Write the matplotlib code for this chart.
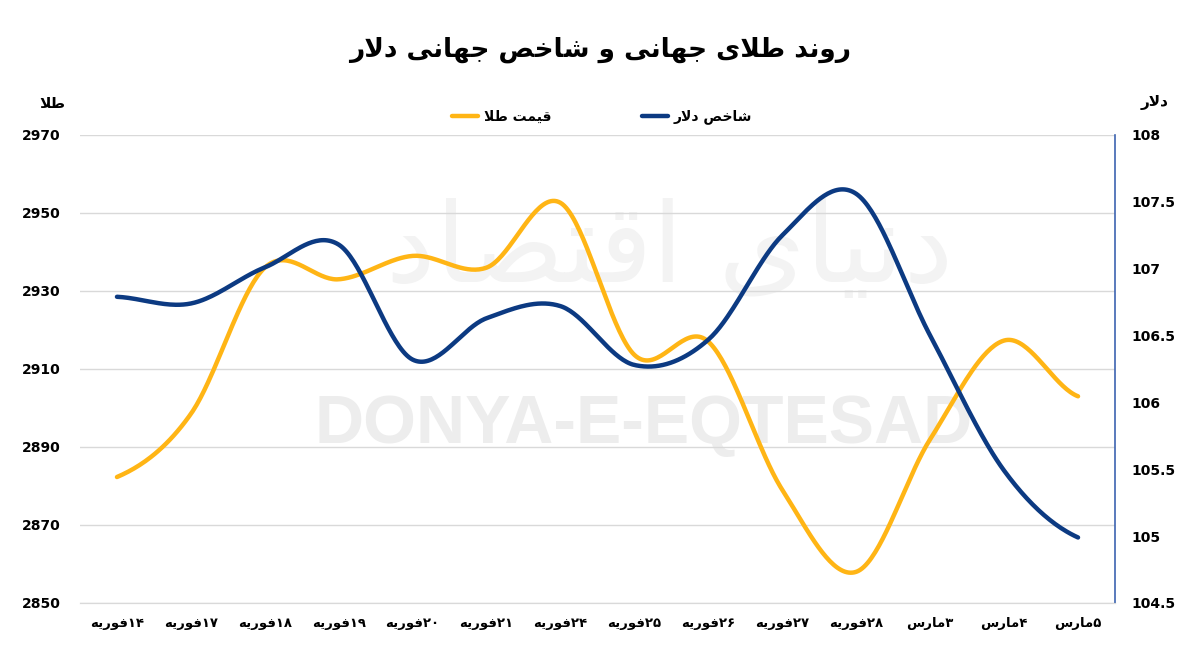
import re
import numpy as np
import matplotlib
matplotlib.use("Agg")
import matplotlib.pyplot as plt

# data
dates = ["۱۴فوریه", "۱۷فوریه", "۱۸فوریه", "۱۹فوریه", "۲۰فوریه", "۲۱فوریه", "۲۴فوریه",
         "۲۵فوریه", "۲۶فوریه", "۲۷فوریه", "۲۸فوریه", "۳مارس", "۴مارس", "۵مارس"]
gold = [2882.3, 2898.5, 2936.0, 2933.0, 2939.0, 2936.0, 2952.6,
        2913.6, 2917.0, 2879.0, 2858.0, 2892.0, 2917.3, 2903.0]
dollar = [106.79, 106.74, 107.01, 107.18, 106.32, 106.63, 106.72,
          106.28, 106.47, 107.25, 107.56, 106.50, 105.49, 104.99]
gold_ticks = [2850, 2870, 2890, 2910, 2930, 2950, 2970]
dollar_ticks = [104.5, 105, 105.5, 106, 106.5, 107, 107.5, 108]

GOLD = "#FFB515"
BLUE = "#0C3A82"

# minimal Persian shaping (presentation forms) + right-to-left order
FORMS = {
    'ا': ('\uFE8D', '\uFE8E', None, None),
    'ب': ('\uFE8F', '\uFE90', '\uFE91', '\uFE92'),
    'ت': ('\uFE95', '\uFE96', '\uFE97', '\uFE98'),
    'ج': ('\uFE9D', '\uFE9E', '\uFE9F', '\uFEA0'),
    'خ': ('\uFEA5', '\uFEA6', '\uFEA7', '\uFEA8'),
    'د': ('\uFEA9', '\uFEAA', None, None),
    'ر': ('\uFEAD', '\uFEAE', None, None),
    'س': ('\uFEB1', '\uFEB2', '\uFEB3', '\uFEB4'),
    'ش': ('\uFEB5', '\uFEB6', '\uFEB7', '\uFEB8'),
    'ص': ('\uFEB9', '\uFEBA', '\uFEBB', '\uFEBC'),
    'ط': ('\uFEC1', '\uFEC2', '\uFEC3', '\uFEC4'),
    'ف': ('\uFED1', '\uFED2', '\uFED3', '\uFED4'),
    'ق': ('\uFED5', '\uFED6', '\uFED7', '\uFED8'),
    'ل': ('\uFEDD', '\uFEDE', '\uFEDF', '\uFEE0'),
    'م': ('\uFEE1', '\uFEE2', '\uFEE3', '\uFEE4'),
    'ن': ('\uFEE5', '\uFEE6', '\uFEE7', '\uFEE8'),
    'ه': ('\uFEE9', '\uFEEA', '\uFEEB', '\uFEEC'),
    'و': ('\uFEED', '\uFEEE', None, None),
    'ی': ('\uFEEF', '\uFEF0', '\uFEF3', '\uFEF4'),
}
LAM_ALEF = ('\uFEFB', '\uFEFC', None, None)
DIGITS = "0123456789۰۱۲۳۴۵۶۷۸۹."


def fa(text):
    toks, i = [], 0
    while i < len(text):
        if text[i] == 'ل' and i + 1 < len(text) and text[i + 1] == 'ا':
            toks.append('لا')
            i += 2
        else:
            toks.append(text[i])
            i += 1
    out = []
    for k, t in enumerate(toks):
        forms = LAM_ALEF if t == 'لا' else FORMS.get(t)
        if forms is None:
            out.append(t)
            continue
        prev = toks[k - 1] if k > 0 else None
        nxt = toks[k + 1] if k + 1 < len(toks) else None
        jp = prev in FORMS and FORMS[prev][2] is not None
        jn = forms[2] is not None and (nxt in FORMS or nxt == 'لا')
        if jp and jn:
            out.append(forms[3])
        elif jp:
            out.append(forms[1])
        elif jn:
            out.append(forms[2])
        else:
            out.append(forms[0])
    runs = re.findall(r'[0-9۰-۹.]+|[^0-9۰-۹.]+', ''.join(out))
    return ''.join(r if r[0] in DIGITS else r[::-1] for r in reversed(runs))


def smooth(y, n=40):
    # Excel-like smoothed line (cubic Hermite / Catmull-Rom)
    y = np.asarray(y, float)
    m = len(y)
    tan = np.empty(m)
    tan[1:-1] = (y[2:] - y[:-2]) / 2
    tan[0] = (y[1] - y[0]) / 2
    tan[-1] = (y[-1] - y[-2]) / 2
    xs, ys = [], []
    s = np.linspace(0, 1, n)
    h00 = 2 * s**3 - 3 * s**2 + 1
    h10 = s**3 - 2 * s**2 + s
    h01 = -2 * s**3 + 3 * s**2
    h11 = s**3 - s**2
    for i in range(m - 1):
        xs.append(i + s)
        ys.append(h00 * y[i] + h10 * tan[i] + h01 * y[i + 1] + h11 * tan[i + 1])
    return np.concatenate(xs), np.concatenate(ys)


plt.rcParams['font.family'] = ['DejaVu Sans']
plt.rcParams['font.weight'] = 'bold'

fig = plt.figure(figsize=(12, 6.45), dpi=100)
ax = fig.add_axes([80 / 1200, 1 - 603 / 645, 1035 / 1200, 468 / 645])
ax2 = ax.twinx()

x = np.arange(len(dates))
gx, gy = smooth(gold)
dx, dy = smooth(dollar)
ax.plot(gx, gy, color=GOLD, lw=3.2, solid_capstyle='round', label=fa("قیمت طلا"))
ax2.plot(dx, dy, color=BLUE, lw=3.2, solid_capstyle='round', label=fa("شاخص دلار"))

ax.set_xlim(-0.5, len(dates) - 0.5)
ax.set_ylim(2850, 2970)
ax2.set_ylim(104.5, 108)
ax.set_xticks(x)
ax.set_xticklabels([fa(d) for d in dates], fontsize=9.5, fontweight='bold')
ax.set_yticks(gold_ticks)
ax.set_yticklabels([str(v) for v in gold_ticks], fontsize=10, fontweight='bold')
ax2.set_yticks(dollar_ticks)
ax2.set_yticklabels(['{:g}'.format(v) for v in dollar_ticks], fontsize=10, fontweight='bold')

ax.grid(axis='y', color='#D9D9D9', lw=1)
ax.set_axisbelow(True)
ax.tick_params(length=0, pad=14)
ax.tick_params(axis='x', pad=10)
ax2.tick_params(length=0, pad=12)
for a in (ax, ax2):
    a.spines['top'].set_visible(False)
    a.spines['left'].set_visible(False)
    a.spines['bottom'].set_color('#D9D9D9')
ax.spines['right'].set_visible(False)
ax2.spines['right'].set_color('#3D64B0')
ax2.spines['right'].set_linewidth(1.2)

# watermarks
ax.text(0.545, 0.38, "DONYA-E-EQTESAD", transform=ax.transAxes, ha='center', va='center',
        fontsize=49, fontweight='bold', family='Liberation Sans', color='#EDEDED', zorder=0.4)
ax.text(0.57, 0.75, fa("دنیای اقتصاد"), transform=ax.transAxes, ha='center', va='center',
        fontsize=80, fontweight='normal', color='#F3F3F3', zorder=0.3)

fig.text(0.5, 1 - 50 / 645, fa("روند طلای جهانی و شاخص جهانی دلار"), ha='center', va='center',
         fontsize=19, fontweight='bold')
fig.text(52 / 1200, 1 - 103 / 645, fa("طلا"), ha='center', va='center', fontsize=11, fontweight='bold')
fig.text(1155 / 1200, 1 - 103 / 645, fa("دلار"), ha='center', va='center', fontsize=11, fontweight='bold')

h1, l1 = ax.get_legend_handles_labels()
h2, l2 = ax2.get_legend_handles_labels()
fig.legend(h1 + h2, l1 + l2, ncol=2, loc='center', bbox_to_anchor=(602 / 1200, 1 - 117 / 645),
           frameon=False, fontsize=10, handlelength=1.9, handletextpad=0.4, columnspacing=6.5)

fig.savefig("out.png", dpi=100)
